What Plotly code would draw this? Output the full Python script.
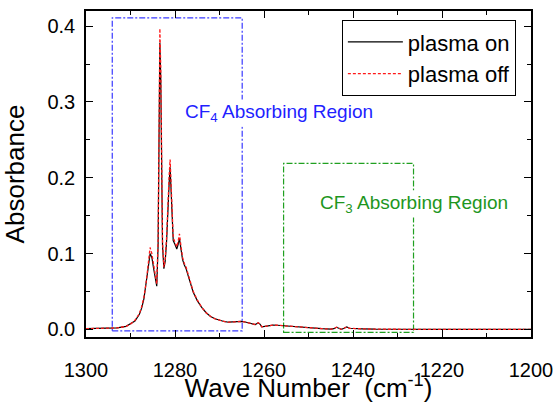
import plotly.graph_objects as go

wave_number = [1300, 1296, 1293, 1291, 1290, 1289, 1288, 1287.5, 1287, 1286.5, 1286,
               1285.6, 1285.2, 1284.8, 1284.4, 1284.1, 1283.8, 1283.6, 1283.4, 1283.2,
               1283.0, 1282.8, 1282.5, 1282.2, 1281.9, 1281.6, 1281.3, 1281.1, 1280.9,
               1280.6, 1280.4, 1280.0, 1279.6, 1279.3, 1279.0, 1278.7, 1278.3, 1277.9,
               1277.5, 1277.1, 1276.5, 1275.9, 1275.0, 1274.0, 1273.0, 1272.0, 1271.0,
               1270.0, 1269.0, 1268.0, 1267.0, 1266.0, 1265.0, 1264.0, 1263.0, 1262.0,
               1261.3, 1260.9, 1260.5, 1260.0, 1259.0, 1258.0, 1257.0, 1256.0, 1255.0,
               1253.0, 1251.0, 1249.0, 1247.0, 1245.0, 1244.3, 1243.7, 1243.1, 1242.6,
               1242.0, 1241.4, 1240.8, 1240.0, 1238.0, 1235.0, 1230.0, 1220.0, 1210.0,
               1200.0]

plasma_on = [0.001, 0.0012, 0.002, 0.004, 0.007, 0.011, 0.020, 0.028, 0.040, 0.058, 0.082,
             0.100, 0.095, 0.080, 0.066, 0.057, 0.110, 0.260, 0.378, 0.330,
             0.200, 0.110, 0.080, 0.090, 0.115, 0.165, 0.195, 0.214, 0.180,
             0.130, 0.117, 0.112, 0.106, 0.112, 0.120, 0.108, 0.092, 0.085,
             0.080, 0.072, 0.060, 0.049, 0.038, 0.029, 0.022, 0.017, 0.014,
             0.012, 0.0105, 0.0095, 0.0098, 0.0105, 0.0105, 0.0095, 0.008, 0.0065,
             0.0085, 0.007, 0.0035, 0.004, 0.0052, 0.0056, 0.0055, 0.005, 0.0045,
             0.0032, 0.0022, 0.0015, 0.001, 0.0005, 0.001, 0.0028, 0.001, 0.0002,
             0.0015, 0.0033, 0.0015, 0.0012, 0.0008, 0.0003, 0.0, 0.0, 0.0,
             0.0]

plasma_off = [0.001, 0.0012, 0.002, 0.004, 0.007, 0.012, 0.021, 0.030, 0.042, 0.061, 0.086,
              0.108, 0.100, 0.083, 0.068, 0.060, 0.118, 0.275, 0.397, 0.345,
              0.210, 0.115, 0.082, 0.093, 0.120, 0.172, 0.205, 0.224, 0.188,
              0.135, 0.121, 0.115, 0.109, 0.116, 0.126, 0.112, 0.095, 0.087,
              0.082, 0.074, 0.061, 0.050, 0.039, 0.029, 0.022, 0.017, 0.014,
              0.012, 0.0105, 0.0095, 0.0098, 0.0105, 0.0105, 0.0095, 0.008, 0.0065,
              0.0088, 0.007, 0.0035, 0.004, 0.0052, 0.0056, 0.0055, 0.005, 0.0045,
              0.0032, 0.0022, 0.0015, 0.001, 0.0005, 0.001, 0.0030, 0.001, 0.0002,
              0.0015, 0.0035, 0.0015, 0.0012, 0.0008, 0.0003, 0.0, 0.0, 0.0,
              0.0]

FONT = "Arial, 'Liberation Sans', sans-serif"

fig = go.Figure()
fig.add_trace(go.Scatter(x=wave_number, y=plasma_on, mode="lines", name="plasma on",
                         line=dict(color="black", width=1.2)))
fig.add_trace(go.Scatter(x=wave_number, y=plasma_off, mode="lines", name="plasma off",
                         line=dict(color="#ff1a1a", width=1.3, dash="3px,2px")))

fig.add_shape(type="rect", xref="x", yref="y", x0=1294.1, x1=1264.9, y0=-0.002, y1=0.411,
              line=dict(color="#3a3aff", width=1.2, dash="6px,2px,2px,2px"), layer="below")
fig.add_shape(type="rect", xref="x", yref="y", x0=1255.6, x1=1226.4, y0=-0.004, y1=0.219,
              line=dict(color="#20a020", width=1.2, dash="6px,2px,2px,2px"), layer="below")

fig.add_annotation(x=1278.2, y=0.285, xref="x", yref="y", xanchor="left", yanchor="middle",
                   text="CF<sub>4</sub> Absorbing Region", showarrow=False,
                   font=dict(family=FONT, size=19, color="#1f1fff"), bgcolor="white")
fig.add_annotation(x=1247.9, y=0.165, xref="x", yref="y", xanchor="left", yanchor="middle",
                   text="CF<sub>3</sub> Absorbing Region", showarrow=False,
                   font=dict(family=FONT, size=19, color="#1e961e"), bgcolor="white")

axis_common = dict(showline=True, linecolor="black", linewidth=1.6, mirror="ticks",
                   ticks="inside", ticklen=7, tickwidth=1.3, tickcolor="black",
                   showgrid=False, zeroline=False, automargin=False,
                   tickfont=dict(family=FONT, size=20, color="black"))

fig.update_xaxes(range=[1300, 1200], tickvals=[1300, 1280, 1260, 1240, 1220, 1200],
                 minor=dict(ticks="inside", ticklen=4, tickwidth=1.3, tickcolor="black",
                            tickvals=[1290, 1270, 1250, 1230, 1210]),
                 title=dict(text="Wave Number  (cm<sup>-1</sup>)",
                            font=dict(family=FONT, size=26, color="black"), standoff=5),
                 ticklabelstandoff=14, **axis_common)
fig.update_yaxes(range=[-0.01, 0.42], tickvals=[0.0, 0.1, 0.2, 0.3, 0.4], tickformat=".1f",
                 minor=dict(ticks="inside", ticklen=4, tickwidth=1.3, tickcolor="black",
                            tickvals=[0.05, 0.15, 0.25, 0.35]),
                 title=dict(text="Absorbance", font=dict(family=FONT, size=26, color="black"),
                            standoff=20),
                 ticklabelstandoff=5, **axis_common)

fig.update_layout(
    width=555, height=403,
    margin=dict(l=86, r=24, t=11, b=66),
    plot_bgcolor="white", paper_bgcolor="white",
    showlegend=True,
    legend=dict(x=0.966, y=0.972, xanchor="right", yanchor="top",
                bordercolor="black", borderwidth=1, bgcolor="white",
                font=dict(family=FONT, size=22, color="black"),
                itemwidth=55, tracegroupgap=0),
)

fig.write_html("out.html", config={"displayModeBar": False},
               post_script="document.body.style.margin='0px';")
